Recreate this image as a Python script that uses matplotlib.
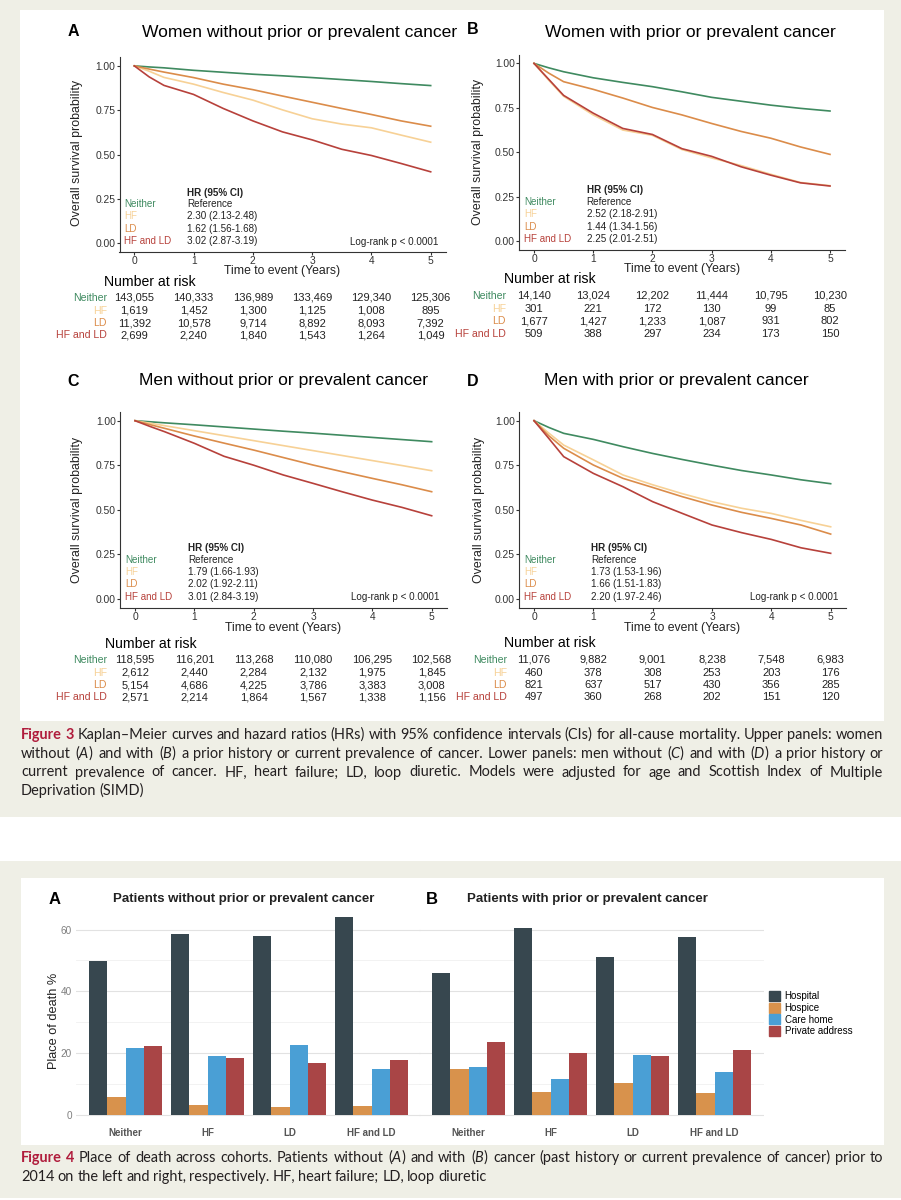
import numpy as np
import matplotlib
matplotlib.use("Agg")
import matplotlib.pyplot as plt
from matplotlib.patches import Rectangle, Patch
from matplotlib.transforms import blended_transform_factory

plt.rcParams['font.family'] = ['Liberation Sans', 'DejaVu Sans']
plt.rcParams['mathtext.fontset'] = 'custom'
plt.rcParams['mathtext.rm'] = 'Lato'
plt.rcParams['mathtext.it'] = 'Lato:italic'

# ---- data: Kaplan-Meier curves ----
groups = ['Neither', 'HF', 'LD', 'HF and LD']
km_years = [0, 0.25, 0.5, 1, 1.5, 2, 2.5, 3, 3.5, 4, 4.5, 5]
risk_years = [0, 1, 2, 3, 4, 5]

# A: women without prior or prevalent cancer
a_neither = [1.0, 0.994, 0.989, 0.975, 0.964, 0.953, 0.944, 0.934, 0.923, 0.912, 0.900, 0.889]
a_hf = [1.0, 0.970, 0.935, 0.897, 0.850, 0.807, 0.752, 0.702, 0.672, 0.651, 0.610, 0.570]
a_ld = [1.0, 0.982, 0.965, 0.934, 0.897, 0.866, 0.830, 0.795, 0.760, 0.726, 0.690, 0.660]
a_hfld = [1.0, 0.938, 0.890, 0.839, 0.760, 0.690, 0.628, 0.583, 0.530, 0.495, 0.450, 0.403]
# B: women with prior or prevalent cancer
b_neither = [1.0, 0.975, 0.953, 0.919, 0.893, 0.869, 0.840, 0.809, 0.787, 0.765, 0.747, 0.732]
b_hf = [1.0, 0.905, 0.815, 0.710, 0.625, 0.595, 0.515, 0.468, 0.425, 0.376, 0.330, 0.312]
b_ld = [1.0, 0.945, 0.897, 0.854, 0.805, 0.752, 0.710, 0.662, 0.617, 0.579, 0.530, 0.488]
b_hfld = [1.0, 0.910, 0.820, 0.720, 0.634, 0.600, 0.520, 0.477, 0.418, 0.371, 0.328, 0.310]
# C: men without prior or prevalent cancer
c_neither = [1.0, 0.994, 0.988, 0.977, 0.965, 0.953, 0.941, 0.930, 0.918, 0.906, 0.894, 0.882]
c_hf = [1.0, 0.986, 0.972, 0.944, 0.916, 0.888, 0.860, 0.832, 0.804, 0.776, 0.748, 0.719]
c_ld = [1.0, 0.978, 0.957, 0.914, 0.874, 0.835, 0.793, 0.751, 0.713, 0.676, 0.640, 0.601]
c_hfld = [1.0, 0.968, 0.938, 0.873, 0.800, 0.750, 0.695, 0.648, 0.600, 0.554, 0.513, 0.466]
# D: men with prior or prevalent cancer
d_neither = [1.0, 0.962, 0.929, 0.895, 0.854, 0.816, 0.782, 0.750, 0.720, 0.695, 0.668, 0.646]
d_hf = [1.0, 0.930, 0.863, 0.780, 0.695, 0.640, 0.590, 0.545, 0.508, 0.479, 0.440, 0.404]
d_ld = [1.0, 0.915, 0.845, 0.751, 0.676, 0.625, 0.573, 0.526, 0.485, 0.451, 0.414, 0.363]
d_hfld = [1.0, 0.900, 0.798, 0.704, 0.629, 0.545, 0.479, 0.414, 0.371, 0.333, 0.286, 0.255]

a_hr = ['Reference', '2.30 (2.13-2.48)', '1.62 (1.56-1.68)', '3.02 (2.87-3.19)']
b_hr = ['Reference', '2.52 (2.18-2.91)', '1.44 (1.34-1.56)', '2.25 (2.01-2.51)']
c_hr = ['Reference', '1.79 (1.66-1.93)', '2.02 (1.92-2.11)', '3.01 (2.84-3.19)']
d_hr = ['Reference', '1.73 (1.53-1.96)', '1.66 (1.51-1.83)', '2.20 (1.97-2.46)']

a_risk_neither = [143055, 140333, 136989, 133469, 129340, 125306]
a_risk_hf = [1619, 1452, 1300, 1125, 1008, 895]
a_risk_ld = [11392, 10578, 9714, 8892, 8093, 7392]
a_risk_hfld = [2699, 2240, 1840, 1543, 1264, 1049]
b_risk_neither = [14140, 13024, 12202, 11444, 10795, 10230]
b_risk_hf = [301, 221, 172, 130, 99, 85]
b_risk_ld = [1677, 1427, 1233, 1087, 931, 802]
b_risk_hfld = [509, 388, 297, 234, 173, 150]
c_risk_neither = [118595, 116201, 113268, 110080, 106295, 102568]
c_risk_hf = [2612, 2440, 2284, 2132, 1975, 1845]
c_risk_ld = [5154, 4686, 4225, 3786, 3383, 3008]
c_risk_hfld = [2571, 2214, 1864, 1567, 1338, 1156]
d_risk_neither = [11076, 9882, 9001, 8238, 7548, 6983]
d_risk_hf = [460, 378, 308, 253, 203, 176]
d_risk_ld = [821, 637, 517, 430, 356, 285]
d_risk_hfld = [497, 360, 268, 202, 151, 120]

# ---- data: place of death (%) ----
places = ['Hospital', 'Hospice', 'Care home', 'Private address']
nocancer_hospital = [49.9, 58.7, 57.9, 64.1]
nocancer_hospice = [5.9, 3.4, 2.6, 3.1]
nocancer_carehome = [21.7, 19.0, 22.6, 14.9]
nocancer_private = [22.3, 18.6, 16.8, 17.9]
cancer_hospital = [45.9, 60.6, 51.1, 57.6]
cancer_hospice = [15.0, 7.4, 10.3, 7.2]
cancer_carehome = [15.4, 11.6, 19.4, 14.1]
cancer_private = [23.6, 20.1, 19.1, 21.0]

km_colors = ['#3f8a60', '#f7d196', '#db8c4a', '#b7413b']
bar_colors = ['#37474f', '#d8924c', '#4a9fd5', '#a94546']
beige = '#efefe6'
ink = '#333333'

W, H = 901, 1200
fig = plt.figure(figsize=(W / 100, H / 100), dpi=100)


def fx(x):
    return x / W


def fy(y):
    return 1 - y / H


def box(x0, y0, x1, y1, color):
    fig.patches.append(Rectangle((fx(x0), fy(y1)), (x1 - x0) / W, (y1 - y0) / H,
                                 transform=fig.transFigure, facecolor=color,
                                 edgecolor='none', zorder=-10))


def add_ax(l, t, r, b):
    return fig.add_axes([fx(l), fy(b), (r - l) / W, (b - t) / H])


def ftext(x, y, s, **kw):
    kw.setdefault('va', 'center')
    kw.setdefault('ha', 'center')
    return fig.text(fx(x), fy(y), s, **kw)


box(0, 0, W, 817, beige)
box(20, 10, 884, 721, 'white')
box(0, 861, W, 1198, beige)
box(21, 878, 884, 1145, 'white')

# ---- Figure 3: four KM panels ----
km_panels = [
    ('A', 'Women without prior or prevalent cancer', [a_neither, a_hf, a_ld, a_hfld], a_hr,
     [a_risk_neither, a_risk_hf, a_risk_ld, a_risk_hfld], True),
    ('B', 'Women with prior or prevalent cancer', [b_neither, b_hf, b_ld, b_hfld], b_hr,
     [b_risk_neither, b_risk_hf, b_risk_ld, b_risk_hfld], False),
    ('C', 'Men without prior or prevalent cancer', [c_neither, c_hf, c_ld, c_hfld], c_hr,
     [c_risk_neither, c_risk_hf, c_risk_ld, c_risk_hfld], True),
    ('D', 'Men with prior or prevalent cancer', [d_neither, d_hf, d_ld, d_hfld], d_hr,
     [d_risk_neither, d_risk_hf, d_risk_ld, d_risk_hfld], True),
]
# pixel layout of each panel
km_layout = [
    dict(ax=(119.5, 57, 445.5, 252.2), letter=(73, 31), title=(299.5, 33), ylab=(77, 153),
         xlab=271, risk_head=(104, 282), rows=[298, 310.5, 323, 335.3], row_lab=107, hrx=0.89),
    dict(ax=(519.2, 54.5, 844.8, 250), letter=(473, 30), title=(690.5, 33), ylab=(478, 152),
         xlab=268.7, risk_head=(504, 279), rows=[296, 309, 321, 334], row_lab=506, hrx=0.89),
    dict(ax=(120.2, 411.8, 446.5, 607.6), letter=(73, 381), title=(284, 381), ylab=(77, 510),
         xlab=627.7, risk_head=(105, 644), rows=[660, 672.5, 685, 697], row_lab=107, hrx=0.89),
    dict(ax=(519.2, 411.8, 845.5, 607.6), letter=(473, 381), title=(676.5, 381), ylab=(479, 510),
         xlab=628, risk_head=(504, 643), rows=[660, 672.5, 685, 697], row_lab=507, hrx=0.96),
]

for (letter, title, curves, hrs, risks, logrank), lay in zip(km_panels, km_layout):
    ax = add_ax(*lay['ax'])
    for ys, col in zip(curves, km_colors):
        ax.plot(km_years, ys, color=col, lw=1.2)
    ax.set_xlim(-0.25, 5.25)
    ax.set_ylim(-0.05, 1.05)
    ax.set_xticks(risk_years)
    ax.set_yticks([0, 0.25, 0.5, 0.75, 1.0])
    ax.set_yticklabels(['0.00', '0.25', '0.50', '0.75', '1.00'])
    for s in ['top', 'right']:
        ax.spines[s].set_visible(False)
    for s in ['left', 'bottom']:
        ax.spines[s].set_color(ink)
        ax.spines[s].set_linewidth(0.8)
    ax.tick_params(colors=ink, labelsize=7.4, length=2, width=0.8, pad=1)

    # HR block
    ax.text(lay['hrx'], 0.285, 'HR (95% CI)', fontsize=7.1, fontweight='bold', color='#222222', va='center')
    for g, hr, col, yy in zip(groups, hrs, km_colors, [0.22, 0.152, 0.081, 0.011]):
        ax.text(-0.17, yy, g, fontsize=7.1, color=col, va='center')
        ax.text(lay['hrx'], yy, hr, fontsize=7.1, color='#222222', va='center')
    if logrank:
        ax.text(5.13, 0.008, 'Log-rank p < 0.0001', fontsize=7.1, color='#222222', ha='right', va='center')

    ftext(*lay['letter'], letter, fontsize=11.5, fontweight='bold', color='black')
    ftext(*lay['title'], title, fontsize=12.6, color='black')
    ftext(*lay['ylab'], 'Overall survival probability', fontsize=8.9, rotation=90, color='#222222')
    xc = (lay['ax'][0] + lay['ax'][2]) / 2
    ftext(xc, lay['xlab'], 'Time to event (Years)', fontsize=8.8, color='#222222')

    # number at risk table
    ftext(*lay['risk_head'], 'Number at risk', fontsize=10.1, ha='left', color='black')
    tr = blended_transform_factory(ax.transData, fig.transFigure)
    for g, row, col, yy in zip(groups, risks, km_colors, lay['rows']):
        ftext(lay['row_lab'], yy, g, fontsize=7.6, ha='right', color=col)
        for t, n in zip(risk_years, row):
            fig.text(t, fy(yy), f'{n:,}', transform=tr, fontsize=8, ha='center', va='center', color='#222222')

# ---- Figure 4: place of death bars ----
bar_sets = [
    ('A', 'Patients without prior or prevalent cancer',
     [nocancer_hospital, nocancer_hospice, nocancer_carehome, nocancer_private]),
    ('B', 'Patients with prior or prevalent cancer',
     [cancer_hospital, cancer_hospice, cancer_carehome, cancer_private]),
]
bar_layout = [
    dict(ax=(76.3, 907, 420.7, 1125), letter=(55, 899), title=(243.5, 899)),
    dict(ax=(419.3, 907, 763.7, 1125), letter=(432, 899), title=(587, 899)),
]
x = np.arange(1, 5)
bw = 0.225
for i, ((letter, title, series), lay) in enumerate(zip(bar_sets, bar_layout)):
    ax = add_ax(*lay['ax'])
    ax.set_facecolor('none')
    for k, (vals, col) in enumerate(zip(series, bar_colors)):
        ax.bar(x + (k - 1.5) * bw, vals, width=bw, color=col, label=places[k])
    ax.set_xlim(0.4, 4.6)
    ax.set_ylim(-3.2, 67.3)
    ax.set_yticks([0, 20, 40, 60])
    ax.set_yticks([10, 30, 50], minor=True)
    ax.grid(axis='y', which='major', color='#e2e2e2', lw=0.8)
    ax.grid(axis='y', which='minor', color='#f0f0f0', lw=0.6)
    ax.set_axisbelow(True)
    for s in ax.spines.values():
        s.set_visible(False)
    ax.set_xticks(x)
    ax.set_xticklabels(groups, fontsize=7, fontweight='bold', color='#555555')
    ax.tick_params(axis='both', which='both', length=0)
    ax.tick_params(axis='x', pad=2)
    ax.tick_params(axis='y', labelsize=7.2, labelcolor='#7f7f7f', pad=3)
    if i == 1:
        ax.set_yticklabels([])
        handles = [Patch(color=c, label=p) for c, p in zip(bar_colors, places)]
        ax.legend(handles=handles, loc='upper left', bbox_to_anchor=(fx(769), fy(991)),
                  bbox_transform=fig.transFigure, frameon=False, fontsize=7,
                  handlelength=1.1, handleheight=1.2, handletextpad=0.5,
                  labelspacing=0.15, borderaxespad=0, borderpad=0)
    ftext(*lay['letter'], letter, fontsize=12, fontweight='bold', color='black')
    ftext(*lay['title'], title, fontsize=9.5, fontweight='bold', color='#222222')

ftext(54, 1021, 'Place of death %', fontsize=9.2, rotation=90, color='#222222')

# ---- captions (justified, Lato) ----
renderer = fig.canvas.get_renderer()
cap_red = '#b01c3c'
cap_ink = '#231f20'
cap_x0, cap_x1 = 21, 883

cap3 = [
    'Figure 3 Kaplan–Meier curves and hazard ratios (HRs) with 95% confidence intervals (CIs) for all-cause mortality. Upper panels: women',
    r'without ($\mathit{A}$) and with ($\mathit{B}$) a prior history or current prevalence of cancer. Lower panels: men without ($\mathit{C}$) and with ($\mathit{D}$) a prior history or',
    'current prevalence of cancer. HF, heart failure; LD, loop diuretic. Models were adjusted for age and Scottish Index of Multiple',
    'Deprivation (SIMD)',
]
cap4 = [
    r'Figure 4 Place of death across cohorts. Patients without ($\mathit{A}$) and with ($\mathit{B}$) cancer (past history or current prevalence of cancer) prior to',
    '2014 on the left and right, respectively. HF, heart failure; LD, loop diuretic',
]
cap_lines = []
for cap, ys in [(cap3, [735, 754, 772.5, 791]), (cap4, [1158, 1177])]:
    for j, (line, yy) in enumerate(zip(cap, ys)):
        words = line.split(' ')
        texts = []
        for k, w in enumerate(words):
            red = j == 0 and k < 2
            texts.append(fig.text(0, fy(yy + 4), w, family='Lato', fontsize=10,
                                  color=cap_red if red else cap_ink,
                                  fontweight='bold' if red else 'normal',
                                  ha='left', va='baseline'))
        cap_lines.append((texts, j == len(cap) - 1))

# pick one font size so the justified lines fit with near-natural spacing
space_frac = 0.22
natural = []
for texts, last in cap_lines:
    if not last:
        w = sum(t.get_window_extent(renderer).width for t in texts)
        natural.append(w + (len(texts) - 1) * space_frac * 10 * 100 / 72)
cap_size = 10 * (cap_x1 - cap_x0) / max(natural) * 0.99

for texts, last in cap_lines:
    for t in texts:
        t.set_fontsize(cap_size)
    widths = [t.get_window_extent(renderer).width for t in texts]
    if last:
        gap = space_frac * cap_size * 100 / 72
    else:
        gap = (cap_x1 - cap_x0 - sum(widths)) / (len(texts) - 1)
    xx = cap_x0
    for t, w in zip(texts, widths):
        t.set_x(fx(xx))
        xx += w + gap

fig.savefig('out.png', dpi=100)
